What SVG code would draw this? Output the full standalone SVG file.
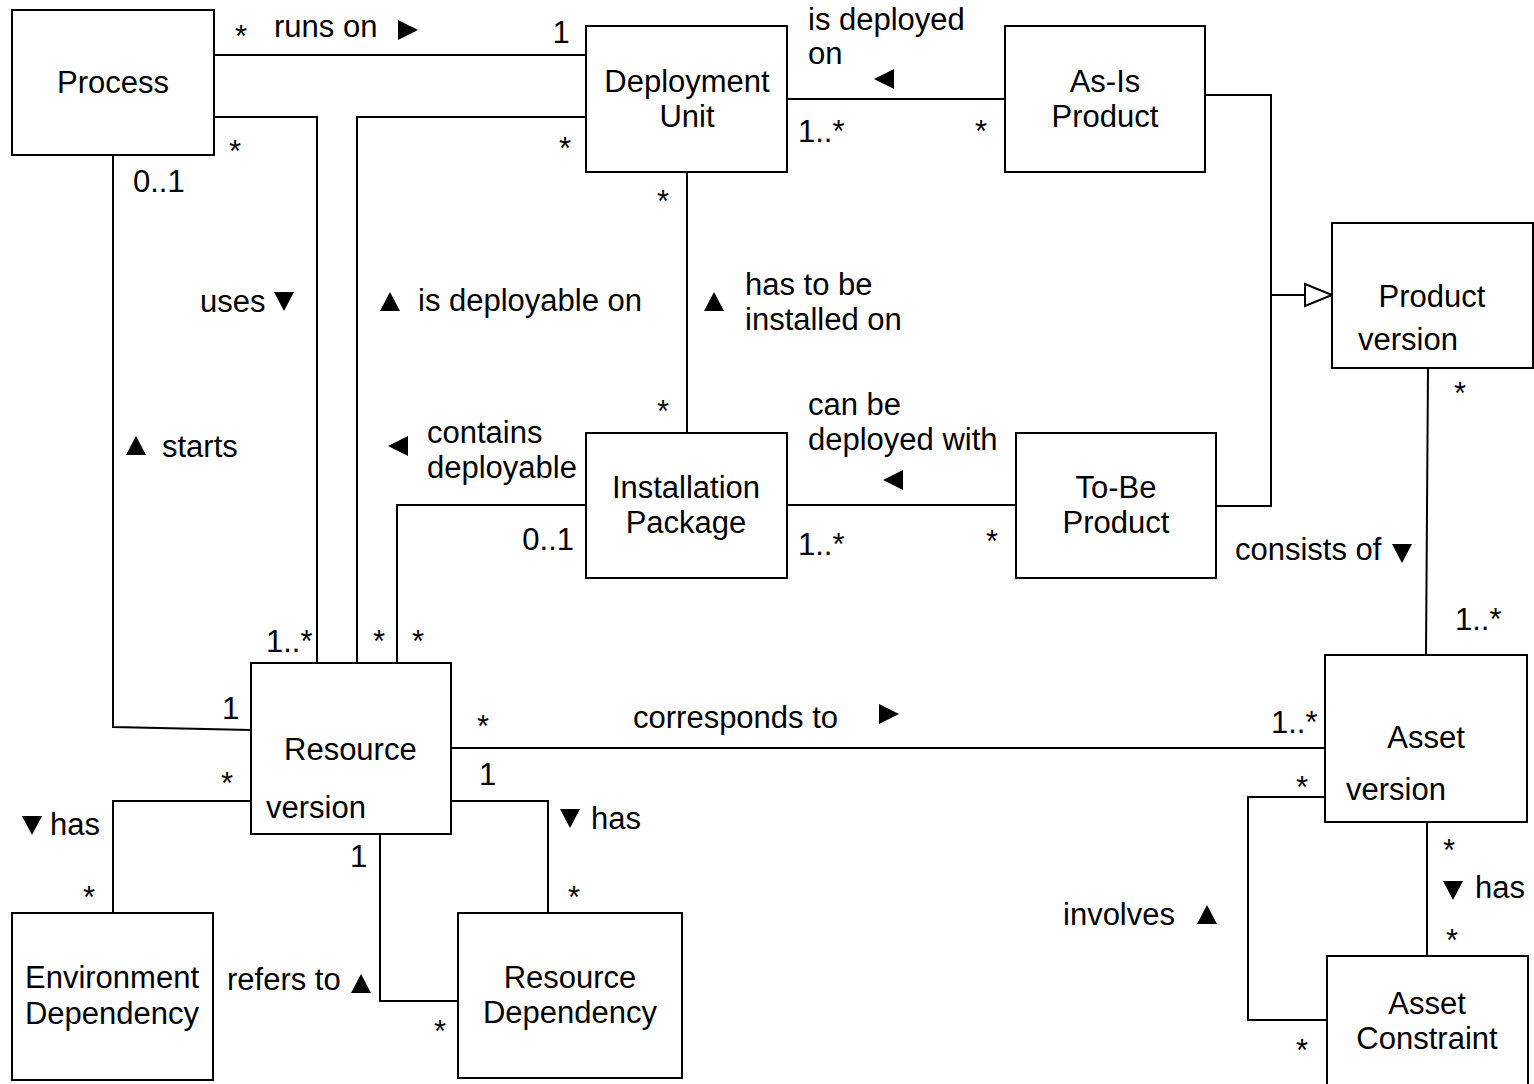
<svg xmlns="http://www.w3.org/2000/svg" width="1534" height="1084" viewBox="0 0 1534 1084">
<style>
.box{fill:#fff;stroke:#000;stroke-width:2}
.ln{fill:none;stroke:#000;stroke-width:2}
text{font-family:"Liberation Sans",Arial,sans-serif;font-size:31px;fill:#000}
.c{text-anchor:middle}
.r{text-anchor:end}
.tri{fill:#000}
</style>
<defs>
<polygon id="tR" class="tri" points="-10,-10 10,0 -10,10"/>
<polygon id="tL" class="tri" points="10,-10 -10,0 10,10"/>
<polygon id="tU" class="tri" points="-10,9 10,9 0,-10"/>
<polygon id="tD" class="tri" points="-10,-9 10,-9 0,10"/>
<marker id="gen" markerWidth="30" markerHeight="26" refX="28" refY="13" orient="auto" markerUnits="userSpaceOnUse">
<polygon points="1,2 28,13 1,24" fill="#fff" stroke="#000" stroke-width="2"/>
</marker>
</defs>
<rect width="1534" height="1084" fill="#fff"/>
<g id="connectors">
<polyline class="ln" points="214,55 586,55"/>
<polyline class="ln" points="214,117 317,117 317,663"/>
<polyline class="ln" points="586,117 357,117 357,663"/>
<polyline class="ln" points="113,155 113,727 251,730"/>
<polyline class="ln" points="687,172 687,433"/>
<polyline class="ln" points="586,505 397,505 397,663"/>
<polyline class="ln" points="787,99 1005,99"/>
<polyline class="ln" points="1205,95 1271,95 1271,506 1216,506"/>
<line class="ln" x1="1271" y1="295" x2="1332" y2="295" marker-end="url(#gen)"/>
<polyline class="ln" points="787,505 1016,505"/>
<polyline class="ln" points="1428,368 1426,655"/>
<polyline class="ln" points="451,748 1325,748"/>
<polyline class="ln" points="251,801 113,801 113,913"/>
<polyline class="ln" points="451,801 548,801 548,913"/>
<polyline class="ln" points="380,834 380,1001 458,1001"/>
<polyline class="ln" points="1325,797 1248,797 1248,1020 1327,1020"/>
<polyline class="ln" points="1427,822 1427,956"/>
</g>
<g id="process"><rect class="box" x="12" y="10" width="202" height="145"/><text class="c" x="113" y="93">Process</text></g>
<g id="deployment-unit"><rect class="box" x="586" y="26" width="201" height="146"/><text class="c" x="687" y="92">Deployment</text><text class="c" x="687" y="127">Unit</text></g>
<g id="as-is-product"><rect class="box" x="1005" y="26" width="200" height="146"/><text class="c" x="1105" y="92">As-Is</text><text class="c" x="1105" y="127">Product</text></g>
<g id="product-version"><rect class="box" x="1332" y="223" width="201" height="145"/><text class="c" x="1432" y="307">Product</text><text x="1358" y="350">version</text></g>
<g id="installation-package"><rect class="box" x="586" y="433" width="201" height="145"/><text class="c" x="686" y="498">Installation</text><text class="c" x="686" y="533">Package</text></g>
<g id="to-be-product"><rect class="box" x="1016" y="433" width="200" height="145"/><text class="c" x="1116" y="498">To-Be</text><text class="c" x="1116" y="533">Product</text></g>
<g id="resource-version"><rect class="box" x="251" y="663" width="200" height="171"/><text x="284" y="760">Resource</text><text x="266" y="818">version</text></g>
<g id="asset-version"><rect class="box" x="1325" y="655" width="202" height="167"/><text class="c" x="1426" y="748">Asset</text><text x="1346" y="800">version</text></g>
<g id="environment-dependency"><rect class="box" x="12" y="913" width="201" height="167"/><text class="c" x="112" y="988">Environment</text><text class="c" x="112" y="1024">Dependency</text></g>
<g id="resource-dependency"><rect class="box" x="458" y="913" width="224" height="165"/><text class="c" x="570" y="988">Resource</text><text class="c" x="570" y="1023">Dependency</text></g>
<g id="asset-constraint"><rect class="box" x="1327" y="956" width="201" height="140"/><text class="c" x="1427" y="1014">Asset</text><text class="c" x="1427" y="1049">Constraint</text></g>
<g id="labels">
<text class="c" x="241" y="47">*</text>
<text x="274" y="37">runs on</text><use href="#tR" x="408" y="30"/>
<text class="c" x="561" y="43">1</text>
<text class="c" x="235" y="162">*</text>
<text x="133" y="192">0..1</text>
<text class="c" x="565" y="159">*</text>
<text x="798" y="142">1..*</text>
<text class="c" x="981" y="142">*</text>
<text x="808" y="30">is deployed</text><text x="808" y="64">on</text>
<use href="#tL" x="884" y="79"/>
<text class="c" x="663" y="212">*</text>
<use href="#tU" x="714" y="302"/>
<text x="745" y="295">has to be</text><text x="745" y="330">installed on</text>
<use href="#tU" x="390" y="302"/>
<text x="418" y="311">is deployable on</text>
<text x="200" y="312">uses</text><use href="#tD" x="284" y="301"/>
<use href="#tU" x="136" y="446"/><text x="162" y="457">starts</text>
<text class="c" x="663" y="422">*</text>
<use href="#tL" x="398" y="446"/>
<text x="427" y="443">contains</text><text x="427" y="478">deployable</text>
<text x="808" y="415">can be</text><text x="808" y="450">deployed with</text>
<use href="#tL" x="893" y="480"/>
<text class="r" x="574" y="550">0..1</text>
<text x="798" y="555">1..*</text>
<text class="c" x="992" y="552">*</text>
<text class="c" x="1460" y="404">*</text>
<text x="1235" y="560">consists of</text><use href="#tD" x="1402" y="553"/>
<text x="1455" y="630">1..*</text>
<text x="266" y="652">1..*</text>
<text class="c" x="379" y="652">*</text>
<text class="c" x="418" y="652">*</text>
<text x="222" y="719">1</text>
<text class="c" x="483" y="737">*</text>
<text x="633" y="728">corresponds to</text><use href="#tR" x="889" y="714"/>
<text x="1271" y="733">1..*</text>
<text x="479" y="785">1</text>
<text class="c" x="227" y="794">*</text>
<use href="#tD" x="32" y="825"/><text x="50" y="835">has</text>
<use href="#tD" x="570" y="818"/><text x="591" y="829">has</text>
<text x="350" y="867">1</text>
<text class="c" x="89" y="908">*</text>
<text class="c" x="574" y="908">*</text>
<text class="c" x="1302" y="798">*</text>
<text class="c" x="1449" y="861">*</text>
<use href="#tD" x="1453" y="890"/><text x="1475" y="898">has</text>
<text class="c" x="1452" y="951">*</text>
<text x="1063" y="925">involves</text><use href="#tU" x="1207" y="915"/>
<text x="227" y="990">refers to</text><use href="#tU" x="361" y="984"/>
<text class="c" x="440" y="1042">*</text>
<text class="c" x="1302" y="1061">*</text>
</g>
</svg>
